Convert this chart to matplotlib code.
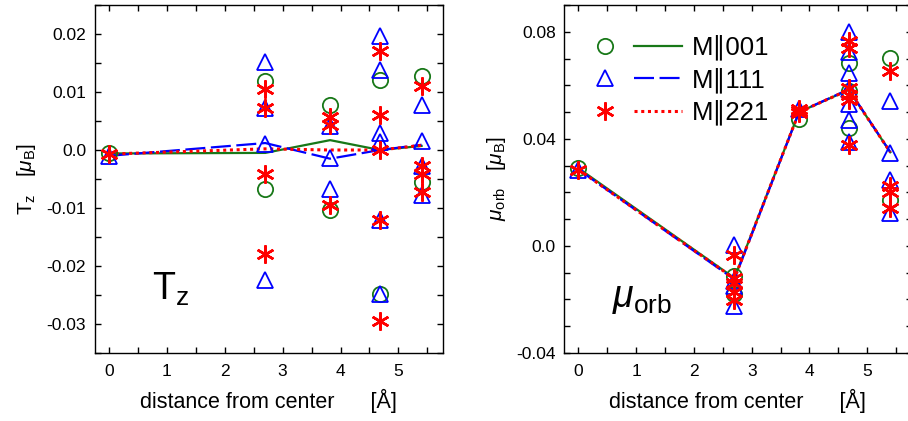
import matplotlib
matplotlib.use('Agg')
import matplotlib.pyplot as plt
from matplotlib.lines import Line2D
from matplotlib.legend_handler import HandlerTuple
from matplotlib.ticker import MultipleLocator

plt.rcParams['font.family'] = ['Liberation Sans', 'DejaVu Sans']
plt.rcParams['mathtext.fontset'] = 'custom'
plt.rcParams['mathtext.rm'] = 'Liberation Sans'
plt.rcParams['mathtext.it'] = 'Liberation Sans:italic'

# shell distances [A]
shells = [0.0, 2.70, 3.82, 4.68, 5.40]

# T_z, individual atoms per shell
tz_001 = [[-0.0006], [0.0119, -0.0068], [0.0078, -0.0103], [0.0121, -0.0249], [0.0128, -0.0056]]
tz_111 = [[-0.0010], [0.0152, 0.0072, 0.0011, -0.0224], [0.0041, -0.0013, -0.0068],
          [0.0196, 0.0138, 0.0030, 0.0013, -0.0120, -0.0249], [0.0078, 0.0015, -0.0028, -0.0077]]
tz_221 = [[-0.0007], [0.0105, 0.0072, -0.0041, -0.0180], [0.0057, 0.0043, -0.0095],
          [0.0170, 0.0061, 0.0000, -0.0120, -0.0295], [0.0111, -0.0027, -0.0042, -0.0072]]
# T_z, shell averages
tz_001_line = [-0.0006, -0.0005, 0.0017, 0.0000, 0.0007]
tz_111_line = [-0.0010, 0.0012, -0.0015, 0.0000, 0.0009]
tz_221_line = [-0.0007, 0.0002, 0.0000, 0.0000, 0.0008]

# mu_orb, individual atoms per shell
mu_001 = [[0.0290], [-0.0112, -0.0178], [0.0475], [0.0683, 0.0580, 0.0440], [0.0702, 0.0170]]
mu_111 = [[0.0282], [0.0004, -0.0130, -0.0150, -0.0224], [0.0510],
          [0.0801, 0.0726, 0.0646, 0.0585, 0.0530, 0.0471, 0.0390], [0.0540, 0.0347, 0.0247, 0.0122]]
mu_221 = [[0.0282], [-0.0034, -0.0121, -0.0140, -0.0171, -0.0202], [0.0495, 0.0510, 0.0505],
          [0.0764, 0.0739, 0.0590, 0.0564, 0.0546, 0.0378], [0.0652, 0.0222, 0.0203, 0.0141]]
# mu_orb, shell averages
mu_001_line = [0.0290, -0.0120, 0.0500, 0.0583, 0.0350]
mu_111_line = [0.0285, -0.0125, 0.0500, 0.0585, 0.0350]
mu_221_line = [0.0285, -0.0122, 0.0500, 0.0583, 0.0350]

labels = ['M\u2225001', 'M\u2225111', 'M\u2225221']

green = '#187818'
blue = '#0000ff'
red = '#ff0000'

circ = dict(marker='o', ms=11, mfc='none', mec=green, mew=1.3, ls='none')
tri = dict(marker='^', ms=12, mfc='none', mec=blue, mew=1.3, ls='none')
star = dict(marker=(6, 2, 0), ms=13, mec=red, mew=1.8, ls='none')
l001 = dict(color=green, lw=1.6, ls='-')
l111 = dict(color=blue, lw=1.6, ls=(0, (9, 2.5)))
l221 = dict(color=red, lw=2.2, ls=(0, (1, 1.2)))


def flat(groups):
    xs, ys = [], []
    for d, vals in zip(shells, groups):
        for v in vals:
            xs.append(d)
            ys.append(v)
    return xs, ys


def style_axes(ax):
    ax.set_xlim(-0.25, 5.77)
    ax.xaxis.set_major_locator(MultipleLocator(1))
    ax.xaxis.set_minor_locator(MultipleLocator(0.5))
    ax.tick_params(which='both', direction='in', top=True, right=True,
                   length=4, width=1, labelsize=12.5)
    ax.tick_params(axis='y', pad=6)
    ax.tick_params(axis='x', pad=8)
    for s in ax.spines.values():
        s.set_linewidth(1)
    ax.set_xlabel('distance from center      [\u00c5]', fontsize=15.5, labelpad=7)


fig = plt.figure(figsize=(9.08, 4.21), dpi=100)
ax1 = fig.add_axes([94.5 / 908, 68 / 421, 348.5 / 908, 348 / 421])
ax2 = fig.add_axes([564 / 908, 68 / 421, 347.7 / 908, 348 / 421])

# left panel: T_z
ax1.plot(shells, tz_001_line, **l001)
ax1.plot(shells, tz_111_line, **l111)
ax1.plot(shells, tz_221_line, **l221)
ax1.plot(*flat(tz_001), **circ)
ax1.plot(*flat(tz_111), **tri)
ax1.plot(*flat(tz_221), **star)
style_axes(ax1)
ax1.set_ylim(-0.035, 0.025)
ax1.set_yticks([0.02, 0.01, 0.0, -0.01, -0.02, -0.03])
ax1.set_yticklabels(['0.02', '0.01', '0.0', '-0.01', '-0.02', '-0.03'])
ax1.yaxis.set_minor_locator(MultipleLocator(0.005))
ax1.set_ylabel(r'T$_{\rm z}$   [$\mu_{\rm B}$]', fontsize=15, labelpad=6)
ax1.text(0.166, 0.152, r'T$_{\rm z}$', transform=ax1.transAxes, fontsize=27)

# right panel: mu_orb
ax2.plot(shells, mu_001_line, **l001)
ax2.plot(shells, mu_111_line, **l111)
ax2.plot(shells, mu_221_line, **l221)
ax2.plot(*flat(mu_001), **circ)
ax2.plot(*flat(mu_111), **tri)
ax2.plot(*flat(mu_221), **star)
style_axes(ax2)
ax2.set_ylim(-0.04, 0.09)
ax2.set_yticks([0.08, 0.04, 0.0, -0.04])
ax2.set_yticklabels(['0.08', '0.04', '0.0', '-0.04'])
ax2.yaxis.set_minor_locator(MultipleLocator(0.01))
ax2.set_ylabel(r'$\mu_{\rm orb}$   [$\mu_{\rm B}$]', fontsize=15, labelpad=6)
ax2.text(0.138, 0.132, r'$\mu_{\rm orb}$', transform=ax2.transAxes, fontsize=27)

handles = [(Line2D([], [], **circ), Line2D([], [], **l001)),
           (Line2D([], [], **tri), Line2D([], [], **l111)),
           (Line2D([], [], **star), Line2D([], [], **l221))]
ax2.legend(handles, labels, handler_map={tuple: HandlerTuple(ndivide=None, pad=0.2)},
           loc='upper left', bbox_to_anchor=(0.05, 0.915), frameon=False,
           fontsize=18.5, handlelength=3.9, handletextpad=0.4, labelspacing=0.27,
           borderpad=0, borderaxespad=0)

fig.savefig('out.png', dpi=100)
